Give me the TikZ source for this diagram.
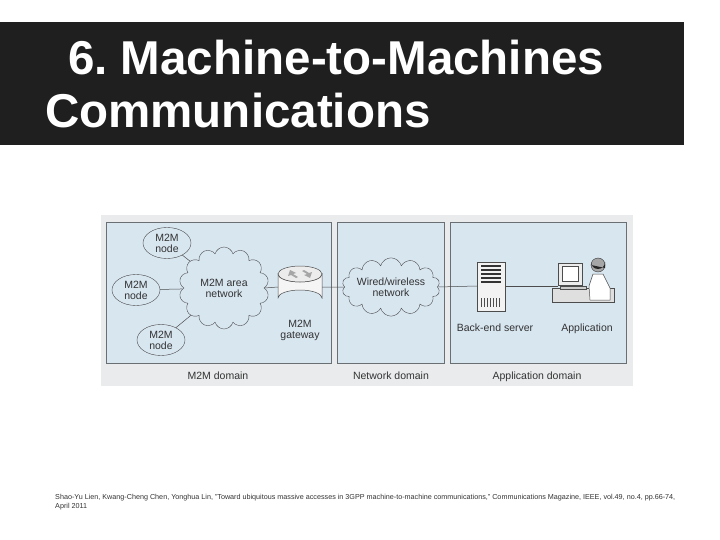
\documentclass[tikz,border=0pt]{standalone}
\usepackage{fontspec}
\setmainfont{Liberation Sans}
\usetikzlibrary{shapes.geometric,shapes.symbols}
\definecolor{pan}{HTML}{D8E6F0}
\definecolor{outer}{HTML}{E9EBEC}
\definecolor{edge}{HTML}{6A6F74}
\frenchspacing
\begin{document}
\begin{tikzpicture}[x=1pt,y=-1pt,
  panel/.style={draw=edge,line width=0.8pt,fill=pan},
  lbl/.style={font=\fontsize{10.5}{11}\selectfont,text=black!80,align=center},
  one/.style={lbl,text height=8pt,text depth=2.5pt},
  nd/.style={ellipse,draw=black!70,fill=pan,minimum width=48pt,minimum height=31pt,inner xsep=-1pt,inner ysep=-3pt,lbl},
  cl/.style={cloud,cloud puffs=14,draw=black!70,fill=pan,aspect=1.3,inner sep=-4pt,lbl},
  ln/.style={draw=black!70,line width=0.5pt}]
\useasboundingbox (0,0) rectangle (720,540);
\fill[white] (0,0) rectangle (720,540);
\fill[black!88] (0,22) rectangle (684,145);
\node[anchor=base west,text=white,font=\fontsize{47.5}{50}\bfseries,inner sep=0] (t1) at (68,75) {6. Machine-to-Machines};
\node[anchor=base west,text=white,font=\fontsize{47.5}{50}\bfseries,inner sep=0] (t2) at (45,128) {Communications};
\fill[outer] (101,215) rectangle (633,386);
\draw[panel] (106,222) rectangle (331,363);
\draw[panel] (337,222) rectangle (444,363);
\draw[panel] (450,222) rectangle (626,363);
\node[one] (d1) at (218,377) {M2M domain};
\node[one] (d2) at (391,377) {Network domain};
\node[one] (d3) at (537,377) {Application domain};
\node[cl,minimum width=90pt,minimum height=82pt] (an) at (224,288) {M2M area\\network};
\node[nd] (n1) at (167,243) {M2M\\node};
\node[nd] (n2) at (136,290) {M2M\\node};
\node[nd] (n3) at (161,340) {M2M\\node};
\node[cl,aspect=1.9,minimum width=98pt,minimum height=52pt] (wn) at (391,287) {Wired/wireless\\network};
% gateway cylinder
\path[ln,fill=white!92!gray] (278,274) -- (278,298) arc[start angle=180,end angle=360,x radius=22,y radius=8] -- (322,274) arc[start angle=0,end angle=180,x radius=22,y radius=8] -- cycle;
\draw[ln,fill=gray!15] (300,274) ellipse[x radius=22,y radius=8];
\fill[gray!70] (290,270) -- (296,273) -- (293,274) -- (298,277) -- (296,278) -- (291,275) -- (288,276) -- cycle;
\fill[gray!70] (310,278) -- (304,275) -- (307,274) -- (302,271) -- (304,270) -- (309,273) -- (312,272) -- cycle;
\node[lbl] (gl) at (300,330) {M2M\\gateway};
% server
\draw[ln,fill=gray!10] (477,262) rectangle (505,311);
\foreach \y in {266,270,274,278,282} \draw[black!80,line width=1.2pt] (481,\y) -- (501,\y);
\foreach \x in {481,484,...,501} \draw[black!70] (\x,298) -- (\x,307);
\node[one] (sl) at (495,329) {Back-end server};
% application workstation
\draw[ln,fill=gray!15] (558,263) rectangle (582,285);
\draw[ln,fill=white] (562,266) rectangle (578,281);
\draw[ln,fill=gray!25] (552,288) rectangle (614,302);
\draw[ln,fill=gray!40] (560,286) rectangle (586,289);
\draw[black!80,fill=gray!70] (598,265) circle[radius=7];
\fill[black!85] (591,262) arc[start angle=180,end angle=0,radius=7] -- (605,268) -- (591,265) -- cycle;
\draw[ln,fill=white] (593,274) -- (603,274) -- (610,288) -- (610,300) -- (590,300) -- (589,286) -- cycle;
\node[one] (al) at (587,329) {Application};
% links
\draw[ln] (n1) -- (an);
\draw[ln] (n2) -- (an);
\draw[ln] (n3) -- (an);
\draw[ln] (an.east) -- (278,287);
\draw[ln] (322,287) -- (wn.west);
\draw[ln] (wn.east) -- (477,286);
\draw[ln] (505,286) -- (558,286);
\node[anchor=base west,font=\fontsize{7.2}{8}\selectfont,inner sep=0,text=black!80,align=left] (fn) at (55,508) {Shao-Yu Lien, Kwang-Cheng Chen, Yonghua Lin, "Toward ubiquitous massive accesses in 3GPP machine-to-machine communications," Communications Magazine, IEEE, vol.49, no.4, pp.66-74,\\[1pt] April 2011};
\end{tikzpicture}
\end{document}
